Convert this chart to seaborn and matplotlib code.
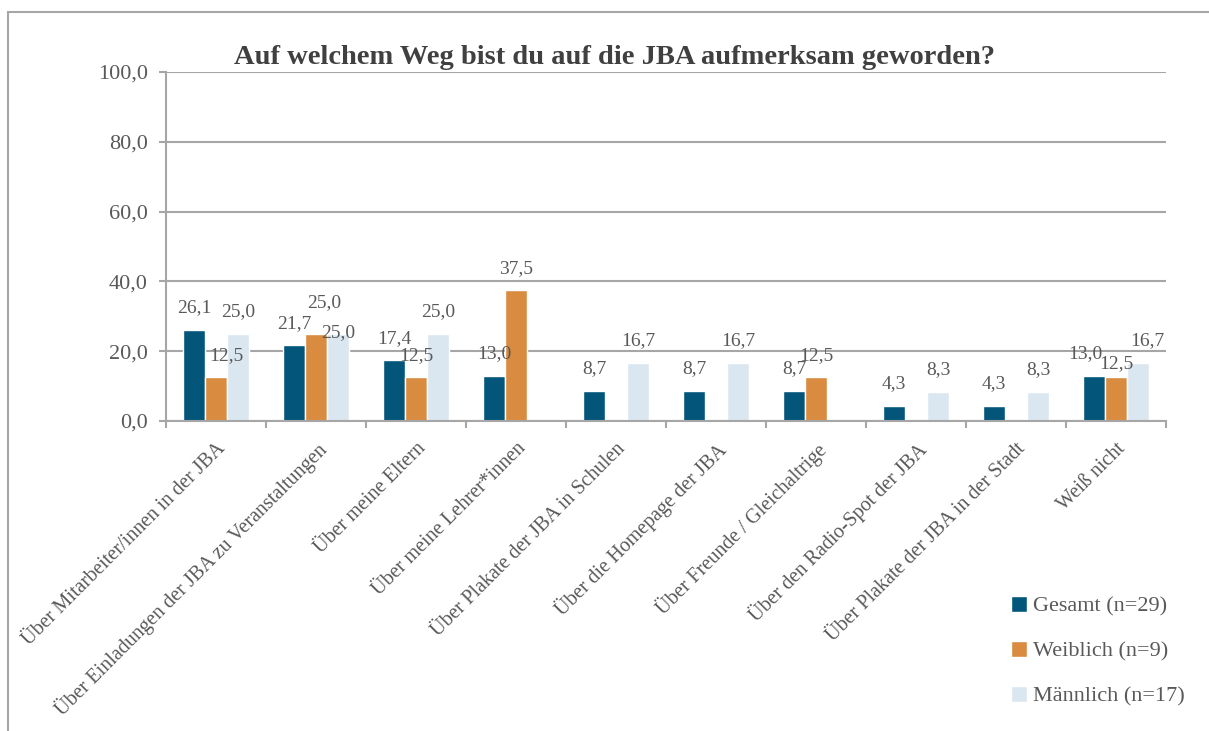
import pandas as pd
import seaborn as sns
import matplotlib.pyplot as plt
from matplotlib.patches import Rectangle
import numpy as np

kategorien = [
    "Über Mitarbeiter/innen in der JBA",
    "Über Einladungen der JBA zu Veranstaltungen",
    "Über meine Eltern",
    "Über meine Lehrer*innen",
    "Über Plakate der JBA in Schulen",
    "Über die Homepage der JBA",
    "Über Freunde / Gleichaltrige",
    "Über den Radio-Spot der JBA",
    "Über Plakate der JBA in der Stadt",
    "Weiß nicht",
]
gruppen = ["Gesamt (n=29)", "Weiblich (n=9)", "Männlich (n=17)"]
gesamt = [26.1, 21.7, 17.4, 13.0, 8.7, 8.7, 8.7, 4.3, 4.3, 13.0]
weiblich = [12.5, 25.0, 12.5, 37.5, np.nan, np.nan, 12.5, np.nan, np.nan, 12.5]
maennlich = [25.0, 25.0, 25.0, np.nan, 16.7, 16.7, np.nan, 8.3, 8.3, 16.7]
farben = ["#03567A", "#D98B3F", "#DAE7F1"]
yticks = [0, 20, 40, 60, 80, 100]

df = pd.DataFrame({
    "Kategorie": kategorien * 3,
    "Gruppe": np.repeat(gruppen, len(kategorien)),
    "Wert": gesamt + weiblich + maennlich,
})

sns.set_style("white")
plt.rcParams["font.family"] = ["Liberation Serif", "DejaVu Serif"]
grau = "#595959"
linie = "#A6A6A6"

fig = plt.figure(figsize=(12.09, 7.31), dpi=100)
ax = fig.add_axes([166 / 1209, 1 - 421 / 731, 1000 / 1209, 349 / 731])

sns.barplot(data=df, x="Kategorie", y="Wert", hue="Gruppe", order=kategorien,
            hue_order=gruppen, palette=farben, saturation=1, width=0.66,
            errorbar=None, ax=ax)

# Datenbeschriftungen (wie im Original teils leicht versetzt, in Pixeln)
versatz = {(1, 0): (10, 0), (1, 1): (8, 9), (2, 1): (0, -21),
           (0, 9): (-9, 0), (1, 9): (0, -8), (2, 9): (9, 0)}
for gi, cont in enumerate(ax.containers):
    werte = df[df.Gruppe == gruppen[gi]].Wert.tolist()
    cats = [i for i, v in enumerate(werte) if not np.isnan(v)]
    for ci, bar in zip(cats, cont):
        h = bar.get_height()
        dx, dy = versatz.get((gi, ci), (0, 0))
        ax.annotate(f"{h:.1f}".replace(".", ","),
                    (bar.get_x() + bar.get_width() / 2, h),
                    xytext=(dx, 22 + dy), textcoords="offset pixels",
                    ha="center", va="center", fontsize=14, color=grau)

ax.set_ylim(0, 100)
ax.set_yticks(yticks)
ax.set_yticklabels([f"{v:.1f}".replace(".", ",") for v in yticks])
ax.set_xlim(-0.5, len(kategorien) - 0.5)
ax.yaxis.grid(True, color=linie, linewidth=1.5)
ax.set_axisbelow(True)
ax.set_xlabel("")
ax.set_ylabel("")

ax.set_xticks(range(len(kategorien)))
ax.set_xticklabels(kategorien, rotation=45, ha="right", rotation_mode="anchor",
                   fontsize=14.5, color=grau)
ax.set_xticks(np.arange(-0.5, len(kategorien), 1), minor=True)
ax.tick_params(axis="x", which="major", length=0, pad=13)
ax.tick_params(axis="x", which="minor", length=5, width=1.5, color=linie,
               direction="out", bottom=True)
ax.tick_params(axis="y", length=5, width=1.5, color=linie, labelsize=16,
               labelcolor=grau, left=True, pad=8)

for s in ["top", "right"]:
    ax.spines[s].set_visible(False)
for s in ["left", "bottom"]:
    ax.spines[s].set_color(linie)
    ax.spines[s].set_linewidth(1.5)

ax.set_title("Auf welchem Weg bist du auf die JBA aufmerksam geworden?",
             fontsize=20.5, fontweight="bold", color="#404040", x=0.448, y=1.0,
             pad=6)

handles, labs = ax.get_legend_handles_labels()
ax.legend(handles, labs, loc="upper left",
          bbox_to_anchor=(991 / 1209, 1 - 576 / 731),
          bbox_transform=fig.transFigure, frameon=False, fontsize=16,
          labelcolor=grau, handlelength=0.7, handleheight=0.7,
          handletextpad=0.3, labelspacing=1.1)

# Rahmen um das Diagramm
fig.patches.append(Rectangle((8 / 1209, -0.1), 1.2, 1 - 12 / 731 + 0.1,
                             transform=fig.transFigure, fill=False,
                             edgecolor="#A6A6A6", linewidth=1.5))

fig.savefig("out.png", dpi=100)
